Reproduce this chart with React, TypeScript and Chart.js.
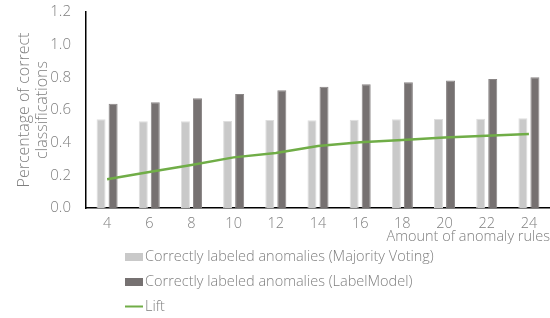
import React, { useEffect, useRef } from "react";
import { Chart, registerables } from "chart.js";

Chart.register(...registerables);

const categories = ["4", "6", "8", "10", "12", "14", "16", "18", "20", "22", "24"];
const majorityVoting = [0.543, 0.531, 0.531, 0.533, 0.539, 0.537, 0.541, 0.543, 0.545, 0.547, 0.549];
const labelModel = [0.639, 0.647, 0.672, 0.698, 0.721, 0.743, 0.757, 0.770, 0.781, 0.790, 0.800];
const lift = [0.176, 0.220, 0.263, 0.310, 0.337, 0.380, 0.402, 0.416, 0.431, 0.443, 0.453];
const yTicks = [0, 0.2, 0.4, 0.6, 0.8, 1.0, 1.2];

const FONT = "'Open Sans', 'Noto Sans', sans-serif";
const TEXT = "#7f7f7f";

const legendPlugin = {
  id: "stackedLegend",
  afterDraw(chart: any) {
    const ctx = chart.ctx;
    const ds = chart.data.datasets;
    const x0 = 125;
    const rows = [257, 282, 307];
    ctx.save();
    ctx.font = `300 14.5px ${FONT}`;
    ctx.textBaseline = "middle";
    ctx.textAlign = "left";
    ds.forEach((d: any, i: number) => {
      const y = rows[i];
      if (d.type === "line") {
        ctx.strokeStyle = d.borderColor;
        ctx.lineWidth = 2;
        ctx.beginPath();
        ctx.moveTo(x0, y - 0.5);
        ctx.lineTo(x0 + 18, y - 0.5);
        ctx.stroke();
      } else {
        ctx.fillStyle = d.backgroundColor;
        ctx.fillRect(x0, y - 4, 18, 8);
      }
      ctx.fillStyle = TEXT;
      ctx.fillText(d.label, x0 + 20, y);
    });
    ctx.restore();
  },
};

export default function App() {
  const ref = useRef<HTMLCanvasElement>(null);
  useEffect(() => {
    document.body.style.margin = "0";
    const chart = new Chart(ref.current!, {
      type: "bar",
      data: {
        labels: categories,
        datasets: [
          {
            type: "bar",
            label: "Correctly labeled anomalies (Majority Voting)",
            data: majorityVoting,
            backgroundColor: "#c9c9c9",
            borderColor: "#dedede",
            borderWidth: 1,
            categoryPercentage: 0.57,
            barPercentage: 0.75,
            order: 2,
          },
          {
            type: "bar",
            label: "Correctly labeled anomalies (LabelModel)",
            data: labelModel,
            backgroundColor: "#767171",
            borderColor: "#8a8686",
            borderWidth: 1,
            categoryPercentage: 0.57,
            barPercentage: 0.75,
            order: 2,
          },
          {
            type: "line",
            label: "Lift",
            data: lift,
            borderColor: "#70ad47",
            backgroundColor: "#70ad47",
            borderWidth: 2.5,
            pointRadius: 0,
            tension: 0,
            order: 1,
          } as any,
        ],
      },
      options: {
        animation: false,
        responsive: true,
        maintainAspectRatio: false,
        layout: { padding: { top: 12, right: 0, bottom: 70, left: 15 } },
        plugins: {
          legend: { display: false },
          tooltip: { enabled: false },
        },
        scales: {
          x: {
            grid: { display: false, drawTicks: false },
            border: { display: true, color: "#000", width: 1.5 },
            ticks: { color: TEXT, font: { family: FONT, size: 14.5, weight: 300 as any }, padding: 7 },
            title: {
              display: true,
              text: "Amount of anomaly rules",
              align: "end",
              color: TEXT,
              font: { family: FONT, size: 14.5, weight: 300 as any },
              padding: { top: 0, bottom: 2 },
            },
            afterFit: (s: any) => {
              s.height = 40;
            },
          },
          y: {
            min: 0,
            max: 1.2,
            afterBuildTicks: (s: any) => {
              s.ticks = yTicks.map((v) => ({ value: v }));
            },
            grid: { display: false, drawTicks: false },
            border: { display: true, color: "#000", width: 1.5 },
            ticks: {
              color: TEXT,
              font: { family: FONT, size: 15, weight: 300 as any },
              padding: 15,
              callback: (v: any) => Number(v).toFixed(1),
            },
            title: {
              display: true,
              text: ["Percentage of correct", "classifications"],
              color: TEXT,
              font: { family: FONT, size: 16, weight: 300 as any, lineHeight: 1.15 },
              padding: { top: 0, bottom: 0 },
            },
            afterFit: (s: any) => {
              s.width = 71;
              s.paddingTop = 0;
              s.paddingBottom = 0;
            },
          },
        },
      },
      plugins: [legendPlugin],
    });
    return () => chart.destroy();
  }, []);
  return (
    <div style={{ width: 550, height: 318, position: "relative" }}>
      <canvas ref={ref} />
    </div>
  );
}
